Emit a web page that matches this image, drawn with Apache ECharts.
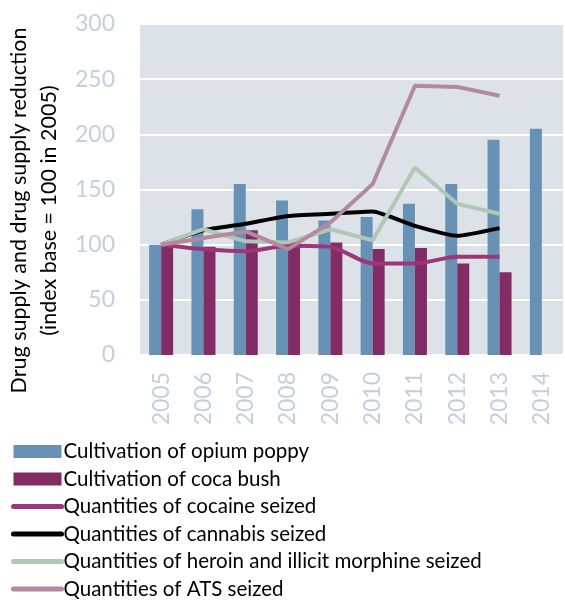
<!DOCTYPE html>
<html><head><meta charset="utf-8">
<script src="https://cdn.jsdelivr.net/npm/echarts@6/dist/echarts.min.js"></script>
<style>html,body{margin:0;padding:0;background:#fff}#c{width:565px;height:601px}</style>
</head><body><div id="c"></div>
<script>
const years = ['2005','2006','2007','2008','2009','2010','2011','2012','2013','2014'];
const yTicks = [0,50,100,150,200,250,300];
const opiumPoppy = [100,132,155,140,122,125,137,155,195,205];
const cocaBush = [100,98,113,103,102,96,97,83,75,null];
const cocaineSeized = [100,96,94,99,98,83,83,89,89,null];
const cannabisSeized = [100,113,119,126,128,130,117,108,115,null];
const heroinSeized = [100,114,103,102,114,104,170,137,128,null];
const atsSeized = [100,106,112,96,120,155,244,243,235,null];

const FONT = 'Lato, "Open Sans", sans-serif';
const lab = '#c3cfdc';
const chart = echarts.init(document.getElementById('c'), null, {renderer:'canvas'});
function line(name, data, color, smooth){
  return {name, type:'line', data, symbol:'none', smooth: smooth||false,
    lineStyle:{color, width:4}, itemStyle:{color}, z:3};
}
function legLine(name, color){
  return {name, itemStyle:{opacity:0}, lineStyle:{color, width:5, cap:'round'}};
}
chart.setOption({
  animation:false,
  grid:{left:140, right:2, top:24, bottom:246, show:true, backgroundColor:'#dce2e8', borderWidth:0,
    outerBoundsMode:'none', containLabel:false},
  xAxis:{type:'category', data:years, axisLine:{show:false}, axisTick:{show:false},
    axisLabel:{rotate:90, color:lab, fontSize:23, fontFamily:FONT, margin:17}},
  yAxis:{type:'value', min:yTicks[0], max:yTicks[yTicks.length-1], interval:50,
    axisLine:{show:false}, axisTick:{show:false},
    splitLine:{lineStyle:{color:'#ffffff', width:2}},
    axisLabel:{color:lab, fontSize:23, fontFamily:FONT, margin:25},
    name:'Drug supply and drug supply reduction\n(index base = 100 in 2005)',
    nameLocation:'middle', nameRotate:90, nameGap:74,
    nameTextStyle:{color:'#000', fontSize:21.5, fontFamily:FONT, lineHeight:30, padding:[0,42,0,0]}},
  legend:{orient:'vertical', left:11, top:441, height:200, padding:0, itemWidth:48, itemHeight:13, itemGap:6.5,
    textStyle:{color:'#000', fontSize:20.5, fontFamily:FONT, lineHeight:21, padding:[0,0,0,-3]},
    data:[
      {name:'Cultivation of opium poppy', icon:'rect'},
      {name:'Cultivation of coca bush', icon:'rect'},
      legLine('Quantities of cocaine seized','#9b3778'),
      legLine('Quantities of cannabis seized','#000000'),
      legLine('Quantities of heroin and illicit morphine seized','#b2c6b6'),
      legLine('Quantities of ATS seized','#b3899f')]},
  series:[
    {name:'Cultivation of opium poppy', type:'bar', data:opiumPoppy, barWidth:12, barGap:'0%', itemStyle:{color:'#6792b6'}},
    {name:'Cultivation of coca bush', type:'bar', data:cocaBush, barWidth:12, barGap:'0%', itemStyle:{color:'#822b64'}},
    line('Quantities of cocaine seized', cocaineSeized, '#9b3778', 0.25),
    line('Quantities of cannabis seized', cannabisSeized, '#000000', 0.15),
    line('Quantities of heroin and illicit morphine seized', heroinSeized, '#b2c6b6'),
    line('Quantities of ATS seized', atsSeized, '#b3899f')
  ]
});
</script></body></html>
